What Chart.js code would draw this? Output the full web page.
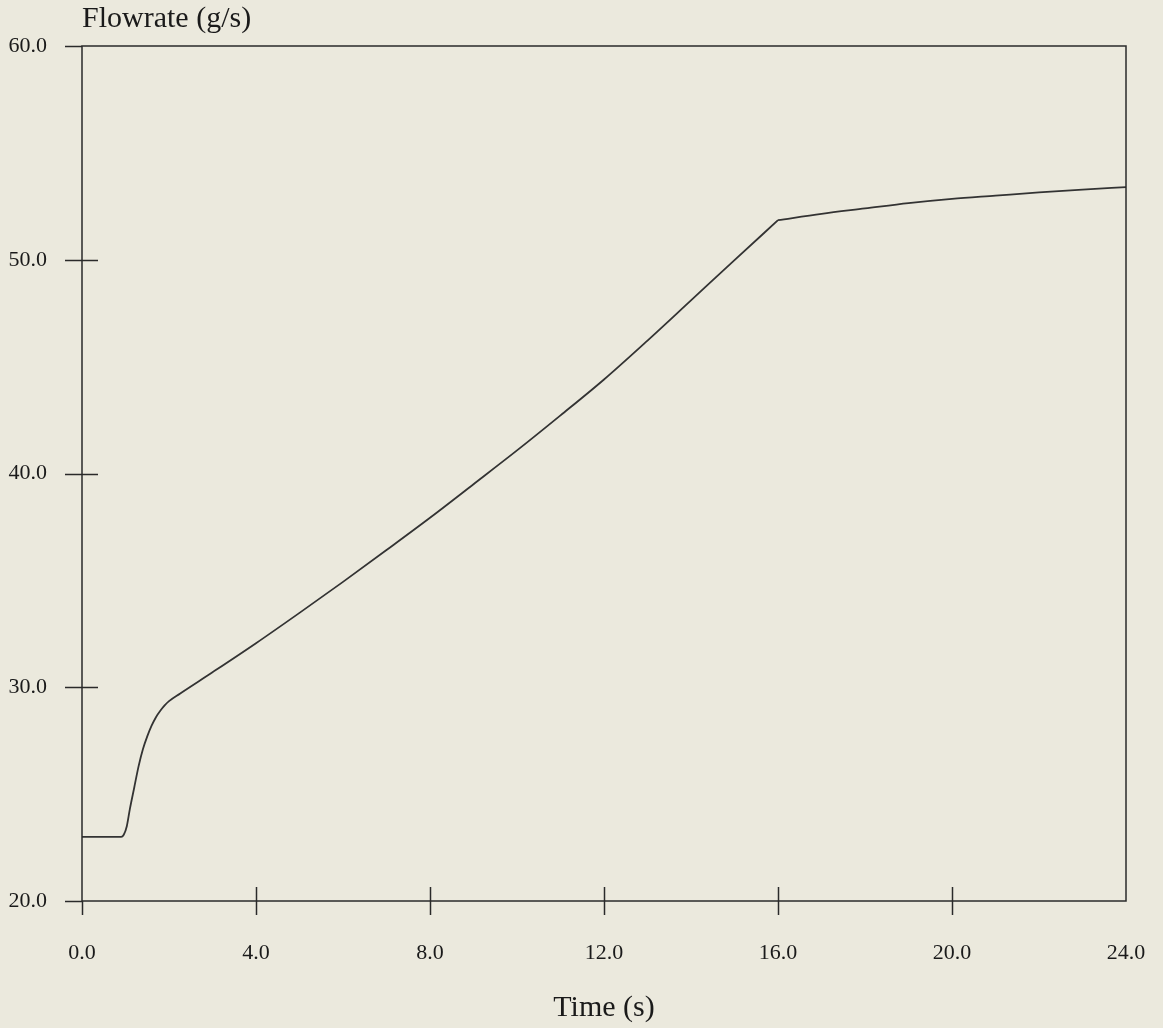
<!DOCTYPE html>
<html>
<head>
<meta charset="utf-8">
<title>Flowrate vs time</title>
<script src="https://cdn.jsdelivr.net/npm/chart.js@4"></script>
<style>
  html, body { margin: 0; padding: 0; background: #ebe9dd; }
  #wrap { width: 1163px; height: 1028px; }
</style>
</head>
<body>
<div id="wrap"><canvas id="flow-chart" width="1163" height="1028"></canvas></div>
<script>
/* ── Data ── */
const timeValues = [0, 0.5, 0.9, 0.96, 1.03, 1.1, 1.2, 1.3, 1.4, 1.5, 1.6, 1.7, 1.8, 1.9, 2.0, 2.25,
  3, 4, 5, 6, 7, 8, 9, 10, 11, 12, 13, 14, 15, 16,
  17, 18, 19, 20, 21, 22, 23, 24];
const flowValues = [23.0, 23.0, 23.0, 23.1, 23.5, 24.3, 25.3, 26.3, 27.1, 27.7, 28.2, 28.6, 28.9, 29.15, 29.35, 29.7,
  30.7, 32.06, 33.48, 34.93, 36.42, 37.93, 39.5, 41.08, 42.72, 44.4, 46.22, 48.1, 49.98, 51.85,
  52.15, 52.4, 52.65, 52.85, 53.0, 53.15, 53.28, 53.4];
const xTicks = [0, 4, 8, 12, 16, 20, 24];
const yTicks = [20, 30, 40, 50, 60];
const breakTime = 16;   // valve change: sharp corner in the trace

const INK = '#2a2a2a';
const serif = '"Liberation Serif", "DejaVu Serif", serif';

// ── background, frame, crossing tick marks, y title ──
const paperPlugin = {
  id: 'paper',
  beforeDraw(chart) {
    const c = chart.ctx;
    c.save();
    c.fillStyle = '#ebe9dd';
    c.fillRect(0, 0, chart.width, chart.height);
    c.restore();
  },
  afterDraw(chart) {
    const c = chart.ctx;
    const a = chart.chartArea;
    const xs = chart.scales.x, ys = chart.scales.y;
    c.save();
    c.strokeStyle = INK;
    c.lineWidth = 1.5;
    // frame
    c.strokeRect(a.left, a.top, a.right - a.left, a.bottom - a.top);
    // y ticks: both sides of the axis
    ys.ticks.forEach(t => {
      const y = Math.round(ys.getPixelForValue(t.value)) + 0.5;
      c.beginPath();
      c.moveTo(a.left - 17, y);
      c.lineTo(t.value > 20 && t.value < 60 ? a.left + 16 : a.left, y);
      c.stroke();
    });
    // x ticks
    xs.ticks.forEach(t => {
      if (t.value >= 24) return;
      const x = Math.round(xs.getPixelForValue(t.value)) + 0.5;
      c.beginPath();
      c.moveTo(x, t.value > 0 ? a.bottom - 14 : a.bottom);
      c.lineTo(x, a.bottom + 14);
      c.stroke();
    });
    // y axis title, top-left
    c.fillStyle = '#1a1a1a';
    c.font = `30px ${serif}`;
    c.textBaseline = 'alphabetic';
    c.textAlign = 'left';
    c.fillText('Flowrate (g/s)', 82, 27);
    c.restore();
  }
};

const points = timeValues.map((t, i) => ({ x: t, y: flowValues[i] }));
const lineStyle = {
  showLine: true,
  borderColor: '#333333',
  borderWidth: 1.8,
  pointRadius: 0,
  cubicInterpolationMode: 'monotone',
  fill: false
};

new Chart(document.getElementById('flow-chart').getContext('2d'), {
  type: 'scatter',
  data: {
    datasets: [
      { label: 'Flowrate', data: points.filter(p => p.x <= breakTime), ...lineStyle },
      { label: 'Flowrate (after 16 s)', data: points.filter(p => p.x >= breakTime), ...lineStyle }
    ]
  },
  options: {
    responsive: false,
    animation: false,
    layout: { padding: { left: 0, top: 46, right: 37, bottom: 0 } },
    plugins: { legend: { display: false }, tooltip: { enabled: false } },
    scales: {
      x: {
        type: 'linear', min: 0, max: 24,
        afterBuildTicks: s => { s.ticks = xTicks.map(v => ({ value: v })); },
        afterFit: s => { s.height = 127; s.paddingLeft = 0; s.paddingRight = 0; },
        grid: { display: false },
        border: { display: false },
        ticks: {
          color: '#1a1a1a', padding: 31, maxRotation: 0,
          font: { family: serif, size: 22 },
          callback: v => Number(v).toFixed(1)
        },
        title: {
          display: true, text: 'Time (s)', color: '#1a1a1a',
          font: { family: serif, size: 30 }, padding: { top: 0, bottom: 2 }
        }
      },
      y: {
        type: 'linear', min: 20, max: 60,
        afterBuildTicks: s => { s.ticks = yTicks.map(v => ({ value: v })); },
        afterFit: s => { s.width = 82; s.paddingTop = 0; s.paddingBottom = 0; },
        grid: { display: false },
        border: { display: false },
        ticks: {
          color: '#1a1a1a', padding: 27,
          font: { family: serif, size: 22 },
          callback: v => Number(v).toFixed(1)
        }
      }
    }
  },
  plugins: [paperPlugin]
});
</script>
</body>
</html>
